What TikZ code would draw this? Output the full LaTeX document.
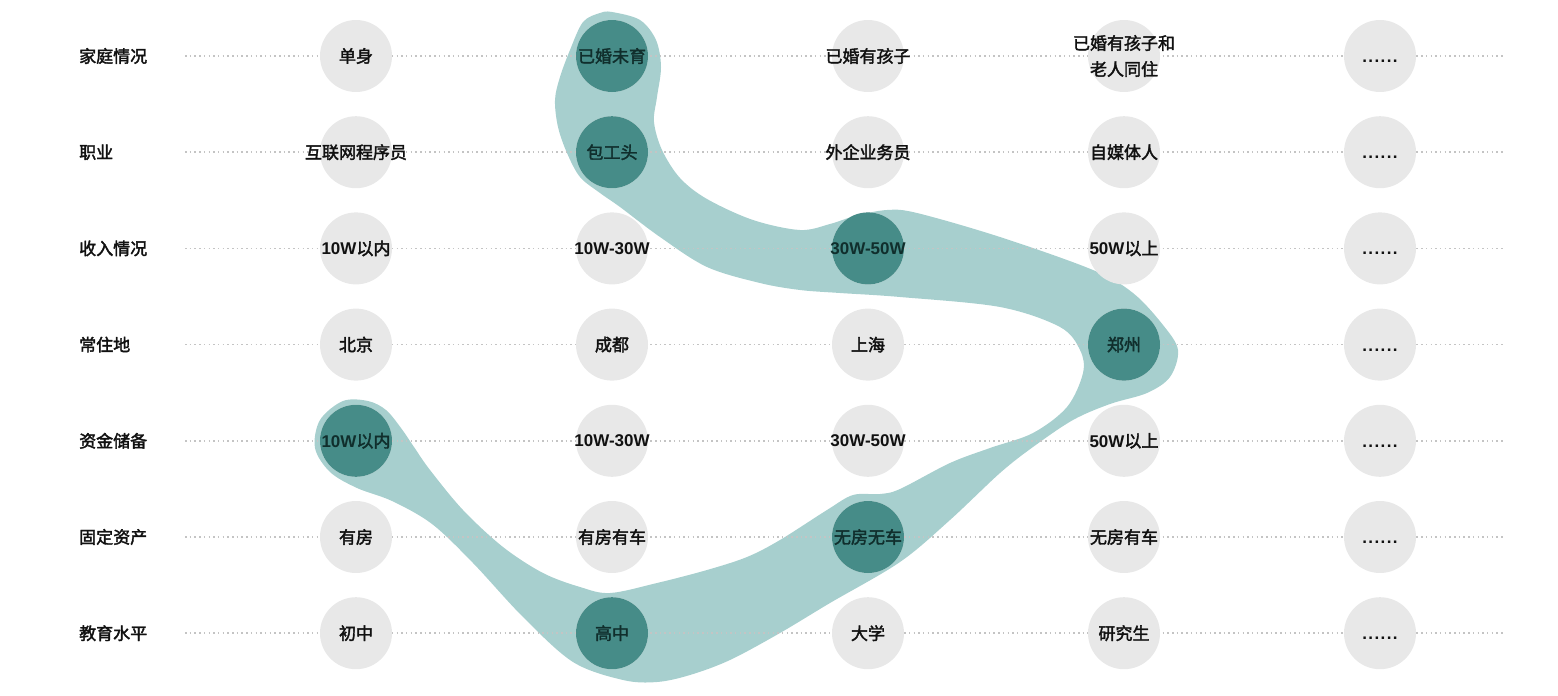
\documentclass[tikz,border=0pt]{standalone}
\usepackage{fontspec}
\setmainfont{Noto Sans CJK SC}[AutoFakeBold=2.2]
\newfontfamily\lat{Liberation Sans}
\definecolor{bandc}{HTML}{A7CFCE}
\definecolor{darkc}{HTML}{468C88}
\definecolor{lightc}{HTML}{E8E8E8}
\definecolor{dotc}{HTML}{C4C4C4}
\definecolor{txtc}{HTML}{111111}
\definecolor{darktxt}{HTML}{102E2C}
\tikzset{
  optc/.style={circle,fill=lightc,minimum size=72pt,inner sep=0pt},
  selc/.style={circle,fill=darkc,minimum size=72pt,inner sep=0pt},
  lbl/.style={inner sep=0pt,font=\fontsize{17pt}{26pt}\selectfont\bfseries,text=txtc,align=center},
  sellbl/.style={lbl,text=darktxt},
  rowlabel/.style={anchor=west,inner sep=0pt,font=\fontsize{17pt}{26pt}\selectfont\bfseries,text=txtc},
  guide/.style={draw=dotc,line width=1.5pt,dash pattern=on 1.5pt off 3.2pt},
}
\newcommand{\myopts}[6]{%
  \pgfmathsetmacro{\ry}{56+96.2*#1}%
  \node[optc,label={[lbl]center:#2}] (c#1-0) at (356,\ry) {};%
  \node[optc,label={[lbl]center:#3}] (c#1-1) at (612,\ry) {};%
  \node[optc,label={[lbl]center:#4}] (c#1-2) at (868,\ry) {};%
  \node[optc,label={[lbl]center:#5}] (c#1-3) at (1124,\ry) {};%
  \node[optc,label={[lbl]center:#6}] (c#1-4) at (1380,\ry) {};%
}
\newcommand{\dts}{\vphantom{单}{\lat\bfseries .\kern1.4pt.\kern1.4pt.\kern1.4pt.\kern1.4pt.\kern1.4pt.}}
\begin{document}
\begin{tikzpicture}[x=1pt,y=-1pt]
\useasboundingbox (0,0) rectangle (1558,696);
% band
\fill[bandc] plot[smooth cycle,tension=0.55] coordinates {
(612,12) (640,20) (656,40) (661,67) (657,97) (654,122) (662,150) (680,178) (707,199) (753,220) (800,230) (830,224) (855,216) (887,210) (917,213) (1000,237) (1093,270) (1133,293) (1163,325) (1178,350) (1170,377) (1147,393) (1110,404) (1073,420) (1033,447) (1000,473) (950,520) (900,562) (830,603) (780,633) (730,660) (690,675) (657,682) (623,680) (573,662) (523,617) (473,563) (432,524) (392,501) (357,488) (330,472) (315,448) (320,420) (343,401) (368,401) (386,410) (401,428) (414,447) (430,470) (463,510) (503,547) (543,573) (580,587) (610,593) (657,583) (707,570) (747,557) (780,540) (827,510) (853,495) (880,494) (900,489) (950,463) (990,448) (1033,433) (1067,407) (1083,373) (1080,350) (1060,327) (1000,307) (900,297) (840,293) (800,290) (760,283) (707,267) (660,237) (620,207) (600,193) (580,177) (567,153) (558,127) (555,100) (560,77) (570,50) (583,22) (600,13)};
% rows
\foreach \j/\lab in {0/家庭情况,1/职业,2/收入情况,3/常住地,4/资金储备,5/固定资产,6/教育水平}{
  \pgfmathsetmacro{\ry}{56+96.2*\j}
  \node[rowlabel] (r\j) at (79,\ry) {\lab};
  \coordinate (gs\j) at (185,\ry);
  \coordinate (ge\j) at (1505,\ry);
  \draw[guide] (gs\j) -- (ge\j);
}
% options
\myopts{0}{单身}{}{已婚有孩子}{已婚有孩子和\\老人同住}{\dts}
\myopts{1}{互联网程序员}{}{外企业务员}{自媒体人}{\dts}
\myopts{2}{{\lat\bfseries 10W}以内}{{\lat\bfseries 10W-30W}}{}{{\lat\bfseries 50W}以上}{\dts}
\myopts{3}{北京}{成都}{上海}{}{\dts}
\myopts{4}{}{{\lat\bfseries 10W-30W}}{{\lat\bfseries 30W-50W}}{{\lat\bfseries 50W}以上}{\dts}
\myopts{5}{有房}{有房有车}{}{无房有车}{\dts}
\myopts{6}{初中}{}{大学}{研究生}{\dts}
% selected
\node[selc,label={[sellbl]center:已婚未育}] (s0) at (c0-1) {};
\node[selc,label={[sellbl]center:包工头}] (s1) at (c1-1) {};
\node[selc,label={[sellbl]center:{\lat\bfseries 30W-50W}}] (s2) at (c2-2) {};
\node[selc,label={[sellbl]center:郑州}] (s3) at (c3-3) {};
\node[selc,label={[sellbl]center:{\lat\bfseries 10W}以内}] (s4) at (c4-0) {};
\node[selc,label={[sellbl]center:无房无车}] (s5) at (c5-2) {};
\node[selc,label={[sellbl]center:高中}] (s6) at (c6-1) {};
\end{tikzpicture}
\end{document}
